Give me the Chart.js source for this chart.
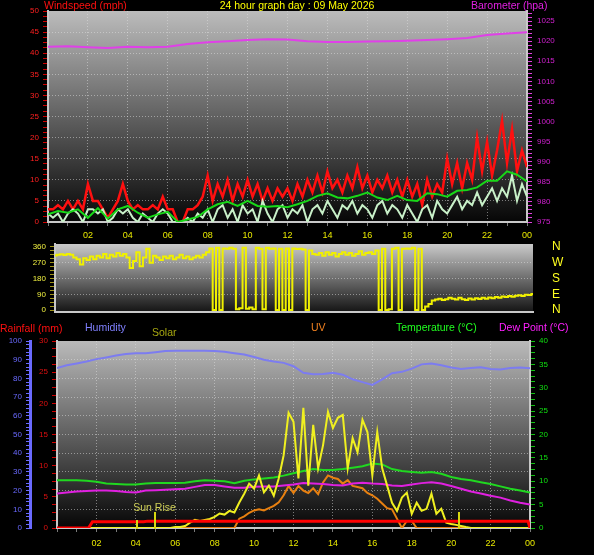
<!DOCTYPE html>
<html>
<head>
<meta charset="utf-8">
<script src="https://cdn.jsdelivr.net/npm/chart.js@4.4.1/dist/chart.umd.min.js"></script>
<style>
  html, body { margin: 0; padding: 0; background: #000; }
  #wrap { position: relative; width: 594px; height: 555px; overflow: hidden; background: #000;
          font-family: "Liberation Sans", Arial, sans-serif; }
  canvas { position: absolute; left: 0; }
  .t { position: absolute; font-size: 10.5px; line-height: 12px; white-space: nowrap; }
</style>
</head>
<body>
<div id="wrap">
  <canvas id="wind" width="594" height="242" style="top:0"></canvas>
  <canvas id="dir" width="594" height="80" style="top:238px"></canvas>
  <canvas id="temp" width="594" height="237" style="top:318px"></canvas>

  <div class="t" style="left:44px;top:-1px;color:#ff1010">Windspeed (mph)</div>
  <div class="t" style="left:0;width:594px;text-align:center;top:-1px;color:#ffff00">24 hour graph day : 09 May 2026</div>
  <div class="t" style="left:471px;top:-1px;color:#e020e0">Barometer (hpa)</div>

  <div class="t" style="left:0;top:322px;color:#ff1010">Rainfall (mm)</div>
  <div class="t" style="left:85px;top:321px;color:#8080ff">Humidity</div>
  <div class="t" style="left:152px;top:326px;color:#a8a810">Solar</div>
  <div class="t" style="left:311px;top:321px;color:#f08020">UV</div>
  <div class="t" style="left:396px;top:321px;color:#20ff20">Temperature (°C)</div>
  <div class="t" style="left:499px;top:321px;color:#ff20ff">Dew Point (°C)</div>
</div>
<script>
// ---- data (times in hours from midnight) ----
const hourLabels = ['02','04','06','08','10','12','14','16','18','20','22','00'];

// barometer, hourly
const baroHourly = [1018.6,1018.7,1018.5,1018.3,1018.6,1018.5,1018.6,1019.3,1019.7,1020.0,1020.3,1020.5,1020.4,
  1020.0,1019.8,1019.8,1019.9,1020.0,1020.1,1020.3,1020.5,1020.8,1021.5,1021.9,1022.2];

// gust and wind speed, every 15 min
const gust15 = [3,3,4,3,5,3,5,3, 9,5,5,3,1,3,5,9, 5,3,4,3,3,4,3,6, 3,3,0,0,3,3,4,6,
  11,5,9,6,10,5,9,6, 10,6,9,5,8,5,8,6, 8,5,9,6,10,7,11,7, 12,8,10,7,11,8,13,8,
  11,7,10,8,11,7,10,6, 10,6,9,4,10,6,9,7, 15,9,14,8,14,10,20,12, 19,11,17,24,14,22,12,17, 13];
const speed15 = [2,1,2,0,2,3,2,0, 3,3,2,3,0,1,3,2, 3,1,0,2,1,0,2,3, 2,0,0,0,1,0,2,1,
  3,0,3,4,1,3,0,4, 2,3,0,5,2,0,3,4, 1,3,2,4,0,3,4,2, 5,3,1,4,3,5,2,4,
  3,1,4,5,2,4,3,1, 4,2,0,3,4,1,5,3, 2,4,6,3,5,4,7,4, 6,8,5,8,6,11,5,9, 6];
// average wind, every 30 min
const avgWind30 = [1.8,2.6,2.2,3.0,1.0,3.3,0.8,3.0,3.8,2.2, 1.0,1.8,2.4,0,0.6,1.2,3.0,4.2,4.8,3.8,
  5.0,3.8,3.6,3.8,3.5,4.2,5.0,6.2,6.8,5.8, 5.6,6.2,7.0,5.8,5.2,6.2,5.2,5.0,6.8,6.6, 6.0,7.4,7.6,8.2,9.8,9.8,12.0,11.2,9.6];

// wind direction (degrees), every 10 min
const dir10 = [312,316,318,314,320,316, 300,290,260,295,285,
  305,290,310,300,320,295,315,305,325,310,320,300,240,
  280,330,250,300,350,270,310,
  300,285,305,295,310,290,300,315,295,305,290,300,310,300,315,330,352,
  0,355,0,352,350,355,350, 5,10,355,8,15,5,
  355,350,5,355,350,352,0,350,0,352,0,352,
  348,350,345,0,340,320,315,325,
  310,330,315,325,305,320,330,315,325,310,320,335,315,325,330,320,
  340,0,350,0,5,350,355,0,350,352,350,355,
  0,350,0,20,35,55, 60,65,58,62,70,65,
  60,70,62,58,66,60,68,63,70,65,72,68,75,70,78,74,80,76,82,85,80,88,86,92];

// humidity %, temperature and dew point degC, every 30 min
const humidity30 = [85.5,87.0,88.0,89.0,90.3,91.2,92.2,93.0,93.4,93.5, 94.0,94.6,94.8,94.8,94.8,94.8,94.7,94.3,93.5,92.8,
  91.4,90.0,89.0,88.3,86.5,83.0,82.2,82.3,83.0,82.0, 79.5,78.0,76.5,79.5,82.8,83.5,85.2,87.5,88.0,87.0,
  85.8,85.0,85.5,86.0,85.0,84.8,85.5,85.8,85.4];
const temp30 = [10.2,10.2,10.2,10.1,9.9,9.5,9.4,9.3,9.3,9.5, 9.6,9.6,9.6,9.7,10.0,10.2,10.1,10.0,9.6,10.1,
  10.4,10.6,10.8,11.2,11.7,12.2,12.6,12.4,12.4,12.6, 12.9,13.2,13.8,13.6,12.6,12.2,12.0,11.8,12.0,11.6,
  10.9,10.5,10.2,9.8,9.4,8.9,8.4,8.0,7.6];
const dew30 = [7.4,7.6,7.8,7.9,8.0,8.0,7.9,7.7,7.6,8.0, 8.1,8.2,8.3,8.4,8.8,9.2,9.2,8.9,8.6,8.6,
  8.8,8.9,8.9,9.1,9.3,9.6,9.5,9.4,9.2,9.1, 9.5,9.7,9.5,9.4,9.1,9.0,9.3,9.6,9.8,9.5,
  9.0,8.4,7.8,7.4,6.9,6.5,5.9,5.4,5.0];

// rainfall (mm) readings
const rainTimes = [0, 1.6, 1.8, 4.4, 4.6, 23.9, 24];
const rainMm    = [0, 0,   1.0, 1.0, 1.1, 1.1,  0];

// solar (W/m2) and UV index, every 15 min
const solar15 = [0,0,0,0,0,0,0,0, 0,0,0,0,0,0,0,0, 0,0,0,0,0,0,0,0,
  6,6,13,34,52,45,52,58, 71,93,86,110,100,164,220,285, 253,337,229,272,207,318,467,740,
  681,318,772,272,662,383,532,746, 642,707,726,383,577,486,694,616, 337,616,383,272,162,110,195,227,
  91,162,110,123,220,91,123,34, 26,20,13,6,0,0,0,0, 0,0,0,0,0,0,0,0, 0];
const uv15 = [0,0,0,0,0,0,0,0, 0,0,0,0,0,0,0,0, 0,0,0,0,0,0,0,0, 0,0,0,0,0,0,0,0, 0,0,0,0,0,
  0.8,1.0,1.3,1.5,1.6,1.5,1.7,1.9,2.2,2.8,3.6,3.0,3.6,3.2,3.0,3.4,2.9,3.9,4.5,4.3,4.2,3.8,4.1,3.6,
  3.5,3.4,3.0,2.8,2.5,2.1,1.7,1.6,0.8,0,0.6,0.6,
  0,0,0,0,0,0,0,0, 0,0,0,0,0,0,0,0, 0,0,0,0,0,0,0,0];

// sun markers: two before sunrise label, one at sunset
const sunTimes = [4.08, 4.95, 20.4];
const sunRiseAt = 4.95;

// axis tick labels
const windLabels = [0,5,10,15,20,25,30,35,40,45,50];
const baroLabels = [975,980,985,990,995,1000,1005,1010,1015,1020,1025];
const dirLabels = [0,90,180,270,360];
const compassLabels = ['N','E','S','W','N'];
const humLabels = [0,10,20,30,40,50,60,70,80,90,100];
const rainLabels = [0,5,10,15,20,25,30];
const tempLabels = [0,5,10,15,20,25,30,35,40];

// ---- helpers ----
Chart.defaults.font.family = "'Liberation Sans', Arial, sans-serif";
Chart.defaults.animation = false;

const clear = 'rgba(0,0,0,0)';
const gridGrey = 'rgba(225,225,225,0.5)';
const edge = '#c8c8c8';

function steps(from, to, by) {
  const out = [];
  for (let v = from; v <= to + 1e-9; v += by) out.push(+v.toFixed(3));
  return out;
}
function pts(values, every) { return values.map((v, i) => ({x: i * every, y: v})); }
function pairs(times, values) { return times.map((t, i) => ({x: t, y: values[i]})); }

const panelBg = {
  id: 'panelBg',
  beforeDraw(chart, args, opts) {
    const {ctx, chartArea: a} = chart;
    const g = ctx.createLinearGradient(0, a.top, 0, a.bottom);
    g.addColorStop(0, opts.top);
    g.addColorStop(1, opts.bottom);
    ctx.save();
    ctx.fillStyle = g;
    ctx.fillRect(a.left, a.top, a.right - a.left, a.bottom - a.top);
    ctx.restore();
  }
};

function hourAxis(o) {
  return {
    type: 'linear', min: 0, max: 24,
    afterBuildTicks: s => { s.ticks = steps(0, 24, 1).map(v => ({value: v})); },
    afterFit: s => { s.height = o.height; s.paddingLeft = 0; s.paddingRight = 0; },
    grid: {
      drawOnChartArea: o.grid !== false,
      drawTicks: o.labels !== false,
      color: c => (c.tick && c.tick.value % 2 === 0 && c.tick.value > 0 && c.tick.value < 24) ? gridGrey : clear,
      tickColor: '#7a7a7a', tickLength: 4
    },
    border: {color: edge, width: 2, dash: [1, 2]},
    ticks: {
      display: o.labels !== false, color: o.color, font: {size: 9}, padding: o.pad,
      autoSkip: false, maxRotation: 0,
      callback: v => (v > 0 && v % 2 === 0) ? hourLabels[v / 2 - 1] : ''
    }
  };
}

function valueAxis(o) {
  return {
    type: 'linear', position: o.pos, min: o.min, max: o.max, weight: o.weight || 0,
    afterBuildTicks: s => { s.ticks = o.ticks.map(v => ({value: v})); },
    afterFit: s => { s.width = o.width; s.paddingTop = 0; s.paddingBottom = 0; },
    grid: {
      drawOnChartArea: !!o.major,
      drawTicks: o.tickLen > 0,
      color: c => (o.major && c.tick && o.major.includes(c.tick.value)) ? gridGrey : clear,
      tickColor: o.tickColor || clear, tickLength: o.tickLen
    },
    border: {display: !!o.border, color: o.border || clear, width: o.borderW || 2, dash: [1, 2]},
    ticks: {
      color: o.color, font: {size: o.size || 8}, padding: o.pad, autoSkip: false,
      callback: v => { const i = o.labelAt.indexOf(v); return i < 0 ? '' : String(o.labels[i]); }
    }
  };
}

const line = (data, color, axis, width) => ({
  data, borderColor: color, yAxisID: axis, borderWidth: width || 2,
  pointRadius: 0, tension: 0, fill: false
});

const common = {
  responsive: false, animation: false, events: [],
  plugins: {legend: {display: false}, tooltip: {enabled: false}}
};

// ---- top panel: wind speed and barometer ----
new Chart(document.getElementById('wind'), {
  type: 'line',
  data: {datasets: [
    line(pts(avgWind30, 0.5), '#18d818', 'y'),
    line(pts(speed15, 0.25), '#c8f0c8', 'y'),
    line(pts(gust15, 0.25), '#ff1010', 'y', 2.5),
    line(pts(baroHourly, 1), '#e040e8', 'yb')
  ]},
  options: {
    ...common,
    layout: {padding: {top: 11, left: 0, right: 0, bottom: 0}},
    plugins: {...common.plugins, panelBg: {top: '#bcbcbc', bottom: '#060606'}},
    scales: {
      x: hourAxis({height: 20, color: '#e8e800', pad: 4}),
      y: valueAxis({pos: 'left', min: 0, max: 50, width: 48, ticks: steps(0, 50, 1.25),
        major: [5,10,15,20,25,30,35,40,45], labelAt: windLabels, labels: windLabels,
        color: '#ff2020', tickColor: '#d00000', tickLen: 5, pad: 4, border: edge}),
      yb: valueAxis({pos: 'right', min: 975, max: 1027.5, width: 67, ticks: steps(975, 1027, 1),
        labelAt: baroLabels, labels: baroLabels,
        color: '#d020d0', tickColor: '#e040e0', tickLen: 5, pad: 5, border: edge})
    }
  },
  plugins: [panelBg]
});

// ---- middle panel: wind direction ----
new Chart(document.getElementById('dir'), {
  type: 'line',
  data: {datasets: [{...line(pts(dir10, 1 / 6), '#f0f000', 'y'), stepped: 'middle'}]},
  options: {
    ...common,
    layout: {padding: {top: 6, left: 0, right: 0, bottom: 6}},
    plugins: {...common.plugins, panelBg: {top: '#cacaca', bottom: '#141414'}},
    scales: {
      x: hourAxis({height: 0, grid: false, labels: false}),
      y: valueAxis({pos: 'left', min: -11, max: 377, width: 55, ticks: steps(0, 360, 22.5),
        major: [90, 180, 270], labelAt: dirLabels, labels: dirLabels,
        color: '#f0f040', tickColor: '#a09418', tickLen: 5, pad: 4, border: edge}),
      yc: valueAxis({pos: 'right', min: -11, max: 377, width: 61, ticks: dirLabels,
        labelAt: dirLabels, labels: compassLabels, size: 12,
        color: '#ffff20', tickLen: 0, pad: 19})
    }
  },
  plugins: [panelBg]
});

// ---- bottom panel: rain, humidity, solar, UV, temperature, dew point ----
const sunMarks = {
  id: 'sunMarks',
  afterDatasetsDraw(chart) {
    const {ctx, chartArea: a, scales: {x}} = chart;
    const len = [8, 16, 16];
    ctx.save();
    ctx.strokeStyle = '#d8d810';
    ctx.lineWidth = 2;
    sunTimes.forEach((t, i) => {
      const px = Math.round(x.getPixelForValue(t));
      ctx.beginPath();
      ctx.moveTo(px, a.bottom + 1);
      ctx.lineTo(px, a.bottom - len[i]);
      ctx.stroke();
    });
    ctx.fillStyle = '#d0d058';
    ctx.font = "10.5px 'Liberation Sans', Arial, sans-serif";
    ctx.textAlign = 'center';
    ctx.fillText('Sun Rise', x.getPixelForValue(sunRiseAt), a.bottom - 17);
    ctx.restore();
  }
};

new Chart(document.getElementById('temp'), {
  type: 'line',
  data: {datasets: [
    line(pairs(rainTimes, rainMm), '#ff0000', 'yr', 3),
    line(pts(solar15, 0.25), '#f0f020', 'ys'),
    line(pts(temp30, 0.5), '#20d820', 'yt'),
    line(pts(dew30, 0.5), '#e020e0', 'yt'),
    line(pts(uv15, 0.25), '#e88010', 'yu'),
    line(pts(humidity30, 0.5), '#7c7cf0', 'yh')
  ]},
  options: {
    ...common,
    layout: {padding: {top: 23, left: 0, right: 0, bottom: 0}},
    plugins: {...common.plugins, panelBg: {top: '#bababa', bottom: '#060606'}},
    scales: {
      x: hourAxis({height: 27, color: '#e8e800', pad: 6}),
      yh: valueAxis({pos: 'left', weight: 10, min: 0, max: 100, width: 30, ticks: steps(0, 100, 2),
        major: [10,20,30,40,50,60,70,80,90], labelAt: humLabels, labels: humLabels,
        color: '#6a6aff', tickColor: '#6a6aff', tickLen: 4, pad: 4, border: '#6a6aff', borderW: 3}),
      yr: valueAxis({pos: 'left', weight: 5, min: 0, max: 30, width: 27, ticks: steps(0, 30, 1.25),
        labelAt: rainLabels, labels: rainLabels,
        color: '#e01010', tickColor: '#d00000', tickLen: 5, pad: 4, border: edge}),
      yt: valueAxis({pos: 'right', min: 0, max: 40, width: 64, ticks: steps(0, 40, 1.25),
        labelAt: tempLabels, labels: tempLabels,
        color: '#10e010', tickColor: '#10c010', tickLen: 5, pad: 4, border: edge}),
      ys: {type: 'linear', display: false, min: 0, max: 1200},
      yu: {type: 'linear', display: false, min: 0, max: 16}
    }
  },
  plugins: [panelBg, sunMarks]
});
</script>
</body>
</html>
